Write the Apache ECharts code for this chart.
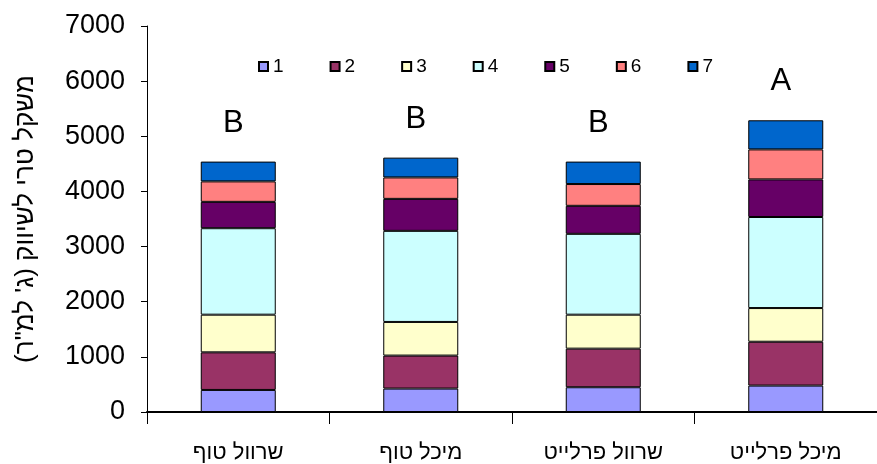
<!DOCTYPE html>
<html>
<head>
<meta charset="utf-8">
<script src="https://cdn.jsdelivr.net/npm/echarts@6/dist/echarts.min.js"></script>
<style>
  html, body { margin: 0; padding: 0; background: #fff; }
  #chart { width: 877px; height: 464px; }
</style>
</head>
<body>
<div id="chart"></div>
<script>
// Treatments (x categories)
const categories = ['שרוול טוף', 'מיכל טוף', 'שרוול פרלייט', 'מיכל פרלייט'];

// Stacked components 1..7 (g per m²)
const s1 = [400, 425, 449, 479];
const s2 = [682, 598, 700, 795];
const s3 = [683, 610, 616, 611];
const s4 = [1568, 1652, 1466, 1651];
const s5 = [478, 580, 508, 682];
const s6 = [371, 389, 395, 544];
const s7 = [359, 359, 407, 528];

// Significance letters above each stack
const letters = ['B', 'B', 'B', 'A'];

const seriesNames = ['1', '2', '3', '4', '5', '6', '7'];
const seriesValues = [s1, s2, s3, s4, s5, s6, s7];
const colors = ['#9999FF', '#993366', '#FFFFCC', '#CCFFFF', '#660066', '#FF8080', '#0066CC'];

// Y axis range and ticks
const yMin = 0, yMax = 7000, yStep = 1000;

const yTitle = '\u200Fמשקל טרי לשיווק (ג\' למ"ר)\u200F';
const FONT = '"Liberation Sans", Arial, sans-serif';

const series = seriesValues.map((vals, i) => {
  const s = {
    name: seriesNames[i],
    type: 'bar',
    stack: 'total',
    barWidth: 75,
    data: vals,
    itemStyle: { color: colors[i], borderColor: '#000', borderWidth: 1 },
    emphasis: { disabled: true },
    animation: false
  };
  if (i === seriesValues.length - 1) {
    s.label = {
      show: true,
      position: 'top',
      distance: 23,
      offset: [-5, 0],
      fontSize: 31,
      fontFamily: FONT,
      color: '#000',
      formatter: p => letters[p.dataIndex]
    };
  }
  return s;
});

const chart = echarts.init(document.getElementById('chart'));
chart.setOption({
  backgroundColor: '#fff',
  animation: false,
  grid: { left: 147, right: -11, top: 26, bottom: 49, containLabel: false },
  legend: {
    data: seriesNames,
    left: 253,
    top: 52,
    itemWidth: 9,
    itemHeight: 9,
    itemGap: 46,
    icon: 'rect',
    textStyle: { fontSize: 19, fontFamily: FONT, color: '#000' }
  },
  xAxis: {
    type: 'category',
    data: categories,
    boundaryGap: true,
    axisLine: { lineStyle: { color: '#000', width: 2 } },
    axisTick: { show: true, length: 12, lineStyle: { color: '#000' } },
    axisLabel: { fontSize: 22, fontFamily: FONT, color: '#000', margin: 30 }
  },
  yAxis: {
    type: 'value',
    min: yMin,
    max: yMax,
    interval: yStep,
    name: yTitle,
    nameLocation: 'middle',
    nameRotate: 90,
    nameGap: 108,
    nameTextStyle: { fontSize: 26, fontFamily: FONT, color: '#000' },
    splitLine: { show: false },
    axisLine: { show: true, lineStyle: { color: '#000', width: 1 } },
    axisTick: { show: true, length: 6, lineStyle: { color: '#000' } },
    axisLabel: {
      fontSize: 27, fontFamily: FONT, color: '#000', margin: 22,
      formatter: v => String(v)
    }
  },
  series: series
});
</script>
</body>
</html>
